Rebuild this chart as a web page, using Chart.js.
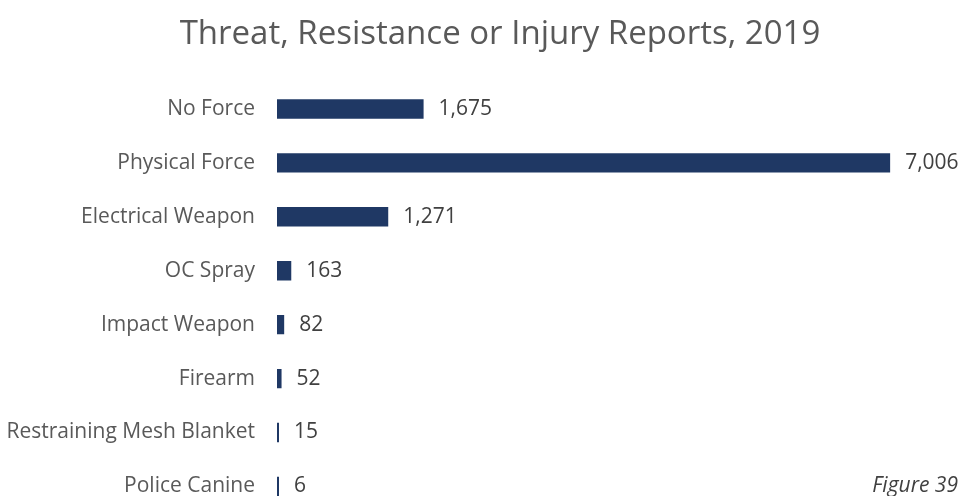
<!DOCTYPE html>
<html lang="en">
<head>
<meta charset="UTF-8">
<title>Threat, Resistance or Injury Reports, 2019</title>
<script src="https://cdn.jsdelivr.net/npm/chart.js"></script>
<style>
  html, body { margin: 0; padding: 0; background: #fff; overflow: hidden; }
  #wrap { position: relative; width: 964px; height: 540px; }
  #title { position: absolute; left: 0; top: 12px; width: 1000px; text-align: center;
           font: 33px/40px "Open Sans", sans-serif; color: #595959; white-space: nowrap; }
  #figure { position: absolute; right: 6px; top: 470px; font: italic 21px "Open Sans", sans-serif; color: #404040; }
</style>
</head>
<body>
<div id="wrap">
  <canvas id="reportChart" width="964" height="540"></canvas>
  <div id="title">Threat, Resistance or Injury Reports, 2019</div>
  <div id="figure">Figure 39</div>
</div>
<script>
  // Categories and counts
  const categories = ['No Force', 'Physical Force', 'Electrical Weapon', 'OC Spray',
                      'Impact Weapon', 'Firearm', 'Restraining Mesh Blanket', 'Police Canine'];
  const reports = [1675, 7006, 1271, 163, 82, 52, 15, 6];

  // Write the value just past the end of each bar
  const valueLabels = {
    id: 'valueLabels',
    afterDatasetsDraw(chart) {
      const ctx = chart.ctx;
      const meta = chart.getDatasetMeta(0);
      ctx.save();
      ctx.font = '21px "Open Sans", sans-serif';
      ctx.fillStyle = '#404040';
      ctx.textAlign = 'left';
      ctx.textBaseline = 'middle';
      meta.data.forEach((bar, i) => {
        ctx.fillText(reports[i].toLocaleString('en-US'), bar.x + 15, bar.y);
      });
      ctx.restore();
    }
  };

  const reportChart = new Chart(document.getElementById('reportChart'), {
    type: 'bar',
    data: {
      labels: categories,
      datasets: [{
        data: reports,
        backgroundColor: '#1f3864',
        barPercentage: 0.72,
        categoryPercentage: 0.5,
        minBarLength: 2
      }]
    },
    options: {
      indexAxis: 'y',
      responsive: false,
      animation: false,
      layout: { padding: { top: 82, right: 0, bottom: 2, left: 0 } },
      plugins: {
        legend: { display: false },
        tooltip: { enabled: false }
      },
      scales: {
        x: { display: false, min: 0, max: 7850 },
        y: {
          grid: { display: false },
          border: { display: false },
          ticks: {
            color: '#595959',
            padding: 14,
            font: { family: '"Open Sans", sans-serif', size: 21 }
          },
          afterFit(scale) { scale.width = 277; }
        }
      }
    },
    plugins: [valueLabels]
  });
</script>
</body>
</html>
